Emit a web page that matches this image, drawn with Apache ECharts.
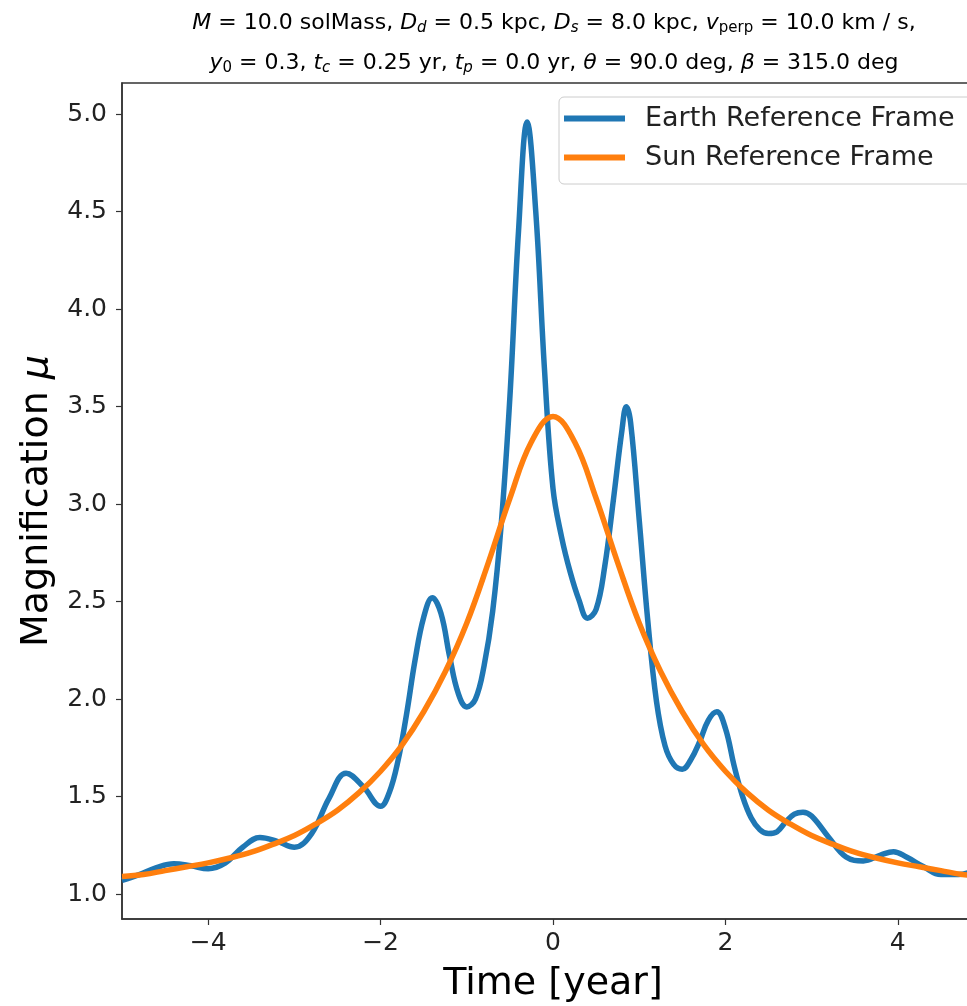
<!DOCTYPE html>
<html>
<head>
<meta charset="utf-8">
<title>Magnification</title>
<script src="https://cdn.jsdelivr.net/npm/echarts@6/dist/echarts.min.js"></script>
<style>
  html, body { margin: 0; padding: 0; background: #fff; }
  #chart { width: 967px; height: 1006px; }
</style>
</head>
<body>
<div id="chart"></div>
<script>
// values
const earthT = [-5.0, -4.8, -4.6, -4.4, -4.2, -4.0, -3.8, -3.6, -3.4, -3.2, -3.0, -2.8, -2.6, -2.4, -2.2, -2.0,
  -1.9, -1.8, -1.7, -1.6, -1.5, -1.4, -1.3, -1.2, -1.1, -1.0, -0.9, -0.8, -0.7, -0.6, -0.5, -0.4, -0.3,
  -0.2, -0.1, 0.0, 0.1, 0.2, 0.3, 0.4, 0.5, 0.6, 0.7, 0.8, 0.85, 0.9, 1.0, 1.1, 1.2, 1.3, 1.4, 1.5, 1.6,
  1.7, 1.8, 1.9, 2.0, 2.1, 2.2, 2.3, 2.4, 2.5, 2.6, 2.7, 2.8, 2.9, 3.0, 3.2, 3.4, 3.6, 3.8, 3.95, 4.1,
  4.3, 4.5, 4.7, 4.9, 5.0];
const earthMu = [1.07, 1.10, 1.135, 1.155, 1.145, 1.13, 1.16, 1.24, 1.29, 1.27, 1.24, 1.31, 1.49, 1.62, 1.55, 1.45,
  1.52, 1.68, 1.92, 2.20, 2.42, 2.52, 2.44, 2.22, 2.03, 1.96, 2.00, 2.17, 2.45, 2.90, 3.55, 4.40, 4.96,
  4.50, 3.70, 3.08, 2.83, 2.65, 2.51, 2.415, 2.46, 2.68, 3.02, 3.38, 3.50, 3.42, 2.92, 2.40, 1.99, 1.76, 1.665, 1.64, 1.69,
  1.78, 1.89, 1.935, 1.85, 1.66, 1.50, 1.39, 1.33, 1.31, 1.32, 1.37, 1.41, 1.42, 1.40, 1.29, 1.19, 1.17, 1.20, 1.217, 1.19,
  1.14, 1.10, 1.10, 1.12, 1.13];

const sunT = [-5, -4.75, -4.5, -4.25, -4, -3.75, -3.5, -3.25, -3, -2.75, -2.5, -2.25, -2, -1.75, -1.5, -1.25, -1,
  -0.75, -0.5, -0.25, 0, 0.25, 0.5, 0.75, 1, 1.25, 1.5, 1.75, 2, 2.25, 2.5, 2.75, 3, 3.25, 3.5, 3.75, 4, 4.25,
  4.5, 4.75, 5];
const sunMu = [1.09, 1.10, 1.12, 1.14, 1.16, 1.185, 1.215, 1.255, 1.30, 1.36, 1.43, 1.52, 1.63, 1.765, 1.935, 2.14, 2.39,
  2.70, 3.03, 3.32, 3.45, 3.32, 3.03, 2.70, 2.39, 2.14, 1.935, 1.765, 1.63, 1.52, 1.43, 1.36, 1.30, 1.255, 1.215, 1.185, 1.16, 1.14,
  1.12, 1.10, 1.09];

const xTicks = [-4, -2, 0, 2, 4];
const yTicks = [1.0, 1.5, 2.0, 2.5, 3.0, 3.5, 4.0, 4.5, 5.0];

const font = "'DejaVu Sans', sans-serif";
const ink = "#222";

let myEcharts = echarts.init(document.getElementById("chart"));

let subPad = [10, 0, 0, 0];
let option = {
  animation: false,
  backgroundColor: "#fff",
  title: {
    text: "{i|M} = 10.0 solMass, {i|D}{si|d} = 0.5 kpc, {i|D}{si|s} = 8.0 kpc, {i|v}{sub|perp} = 10.0 km / s,\n" +
      "{i|y}{sub|0} = 0.3, {i|t}{si|c} = 0.25 yr, {i|t}{si|p} = 0.0 yr, {i|θ} = 90.0 deg, {i|β} = 315.0 deg",
    left: 549,
    top: -2,
    textAlign: "center",
    textStyle: {
      fontFamily: font,
      fontSize: 22,
      fontWeight: "normal",
      color: "#000",
      lineHeight: 40,
      rich: {
        i: { fontStyle: "italic", fontSize: 22, fontFamily: font, lineHeight: 40 },
        si: { fontStyle: "italic", fontSize: 15, fontFamily: font, padding: subPad },
        sub: { fontSize: 15, fontFamily: font, padding: subPad }
      }
    }
  },
  legend: {
    orient: "vertical",
    left: 559,
    top: 97,
    padding: [8, 30, 13, 5],
    itemGap: 12,
    itemWidth: 61,
    itemHeight: 6,
    icon: "rect",
    backgroundColor: "rgba(255,255,255,0.8)",
    borderColor: "#ccc",
    borderWidth: 1,
    borderRadius: 5,
    textStyle: { fontFamily: font, fontSize: 27, lineHeight: 27, color: ink, padding: [0, 0, 0, 15] },
    data: ["Earth Reference Frame", "Sun Reference Frame"]
  },
  grid: {
    left: 122,
    top: 83,
    right: -17,
    bottom: 87,
    outerBoundsMode: "none",
    show: true,
    borderColor: "#333",
    borderWidth: 1.5,
    backgroundColor: "transparent"
  },
  xAxis: {
    type: "value",
    min: -5,
    max: 5,
    name: "Time [year]",
    nameLocation: "middle",
    nameGap: 46,
    nameTextStyle: { fontFamily: font, fontSize: 38, color: "#000" },
    axisLine: { onZero: false, lineStyle: { color: "#333", width: 1.5 } },
    axisTick: { customValues: xTicks, length: 6, lineStyle: { color: "#333", width: 1.2 } },
    axisLabel: {
      customValues: xTicks,
      margin: 12,
      fontFamily: font,
      fontSize: 25,
      color: ink,
      formatter: v => (v < 0 ? "\u2212" + Math.abs(v) : String(v))
    },
    splitLine: { show: false }
  },
  yAxis: {
    type: "value",
    min: 0.872,
    max: 5.16,
    name: "{n|Magnification }{m|μ}",
    nameLocation: "middle",
    nameGap: 62,
    nameTextStyle: {
      fontFamily: font,
      fontSize: 38,
      color: "#000",
      rich: {
        n: { fontFamily: font, fontSize: 38, color: "#000" },
        m: { fontFamily: font, fontSize: 38, fontStyle: "italic", color: "#000" }
      }
    },
    axisLine: { show: true, onZero: false, lineStyle: { color: "#333", width: 1.5 } },
    axisTick: { show: true, customValues: yTicks, length: 6, lineStyle: { color: "#333", width: 1.2 } },
    axisLabel: {
      customValues: yTicks,
      margin: 15,
      fontFamily: font,
      fontSize: 25,
      color: ink,
      formatter: v => v.toFixed(1)
    },
    splitLine: { show: false }
  },
  series: []
};

let lines = [
  { name: "Earth Reference Frame", color: "#1f77b4", t: earthT, mu: earthMu },
  { name: "Sun Reference Frame", color: "#ff7f0e", t: sunT, mu: sunMu }
];
for (let i = 0; i < lines.length; i++) {
  let obj = {
    name: lines[i].name,
    type: "line",
    smooth: 0.4,
    showSymbol: false,
    color: lines[i].color,
    lineStyle: { width: 5.5, color: lines[i].color },
    data: lines[i].t.map((t, k) => [t, lines[i].mu[k]])
  };
  option.series.push(obj);
}
myEcharts.setOption(option);
</script>
</body>
</html>
